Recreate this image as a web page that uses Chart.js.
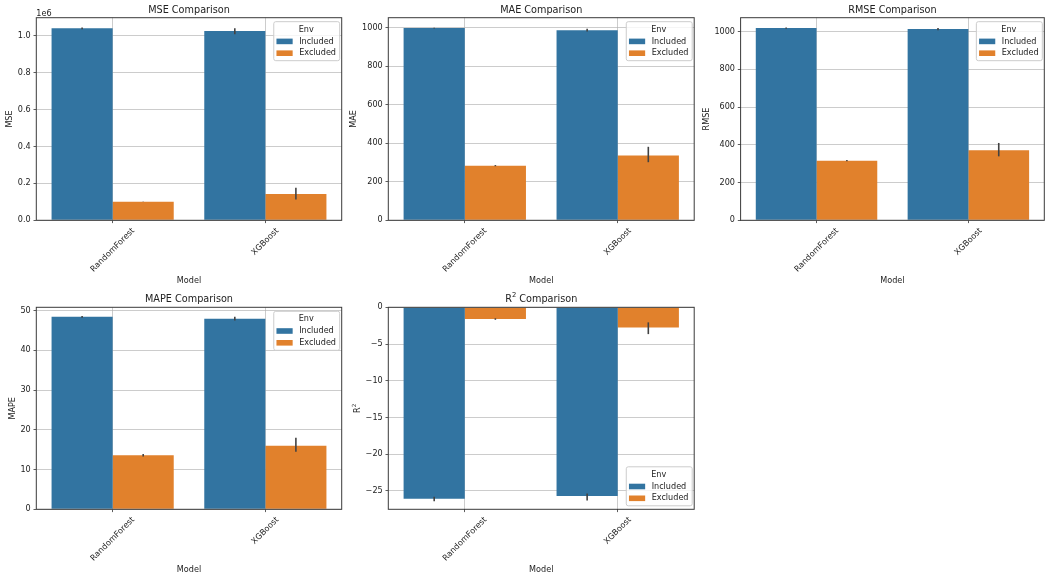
<!DOCTYPE html>
<html>
<head>
<meta charset="utf-8">
<script src="https://cdn.jsdelivr.net/npm/chart.js@4.4.1/dist/chart.umd.min.js"></script>
<style>
  html, body { margin: 0; padding: 0; background: #fff; }
  body { width: 1052px; height: 580px; position: relative; overflow: hidden; }
  canvas { position: absolute; }
</style>
</head>
<body>
<canvas id="mseChart"></canvas>
<canvas id="maeChart"></canvas>
<canvas id="rmseChart"></canvas>
<canvas id="mapeChart"></canvas>
<canvas id="r2Chart"></canvas>
<script>
// Categories and hue levels
const models = ['RandomForest', 'XGBoost'];
const envs = ['Included', 'Excluded'];

// MSE (raw units, axis shows 1e6)
const mseIncluded = [1040000, 1025000];
const mseExcluded = [100000, 142000];
const mseIncludedLo = [1035000, 1008000];
const mseIncludedHi = [1045000, 1041000];
const mseExcludedLo = [99000, 112000];
const mseExcludedHi = [101000, 177000];
const mseTicks = [0, 200000, 400000, 600000, 800000, 1000000];

// MAE
const maeIncluded = [999, 988];
const maeExcluded = [284, 337];
const maeIncludedLo = [997, 981];
const maeIncludedHi = [1001, 995];
const maeExcludedLo = [281, 302];
const maeExcludedHi = [287, 382];
const maeTicks = [0, 200, 400, 600, 800, 1000];

// RMSE
const rmseIncluded = [1019, 1014];
const rmseExcluded = [316, 372];
const rmseIncludedLo = [1016, 1008];
const rmseIncludedHi = [1022, 1020];
const rmseExcludedLo = [313, 339];
const rmseExcludedHi = [320, 410];
const rmseTicks = [0, 200, 400, 600, 800, 1000];

// MAPE
const mapeIncluded = [48.4, 47.9];
const mapeExcluded = [13.6, 16.0];
const mapeIncludedLo = [48.2, 47.5];
const mapeIncludedHi = [48.6, 48.4];
const mapeExcludedLo = [13.3, 14.5];
const mapeExcludedHi = [13.9, 18.0];
const mapeTicks = [0, 10, 20, 30, 40, 50];

// R^2
const r2Included = [-26.05, -25.7];
const r2Excluded = [-1.6, -2.75];
const r2IncludedLo = [-26.4, -26.3];
const r2IncludedHi = [-25.8, -25.35];
const r2ExcludedLo = [-1.7, -3.65];
const r2ExcludedHi = [-1.5, -2.05];
const r2Ticks = [-25, -20, -15, -10, -5, 0];

// y axis limits [min, max]
const mseRange = [0, 1097500];
const maeRange = [0, 1053];
const rmseRange = [0, 1074];
const mapeRange = [0, 50.8];
const r2Range = [-27.5, 0];

const FONT = '"DejaVu Sans", sans-serif';
const TEXT = '#222';
const colors = ['#3274a1', '#e1812c'];

Chart.defaults.font.family = FONT;
Chart.defaults.animation = false;

const minus = v => (v < 0 ? '\u2212' + Math.abs(v) : String(v));

// text with an optional superscript, e.g. R^2
function drawLabel(ctx, parts, size, cx, cy, rot) {
    ctx.save();
    ctx.translate(cx, cy);
    if (rot) ctx.rotate(rot);
    let total = 0;
    const items = parts.map(p => {
        const s = p.sup ? size * 0.7 : size;
        ctx.font = s + 'px ' + FONT;
        const w = ctx.measureText(p.text).width;
        total += w;
        return { text: p.text, s, w, sup: p.sup };
    });
    let x = -total / 2;
    ctx.textAlign = 'left';
    ctx.textBaseline = 'middle';
    ctx.fillStyle = TEXT;
    items.forEach(it => {
        ctx.font = it.s + 'px ' + FONT;
        ctx.fillText(it.text, x, it.sup ? -size * 0.45 : 0);
        x += it.w;
    });
    ctx.restore();
}

function drawLegend(chart, where) {
    const ctx = chart.ctx, a = chart.chartArea;
    ctx.save();
    ctx.font = '8.1px ' + FONT;
    const textW = Math.max(...envs.map(e => ctx.measureText(e).width));
    const w = 3.2 + 16.2 + 6.5 + textW + 3.2;
    const h = 39;
    const x0 = a.right - 2.5 - w;
    const y0 = where === 'lower' ? a.bottom - 4 - h : a.top + 3.5;
    ctx.beginPath();
    ctx.roundRect(x0 + 0.5, y0 + 0.5, w, h, 2);
    ctx.fillStyle = 'rgba(255,255,255,0.8)';
    ctx.fill();
    ctx.strokeStyle = '#cccccc';
    ctx.lineWidth = 1;
    ctx.stroke();
    ctx.fillStyle = TEXT;
    ctx.textAlign = 'center';
    ctx.textBaseline = 'middle';
    ctx.fillText('Env', x0 + w / 2, y0 + 8.3);
    envs.forEach((e, i) => {
        const cy = y0 + 20.2 + i * 11.8;
        ctx.fillStyle = chart.data.datasets[i].backgroundColor;
        ctx.fillRect(x0 + 3.2, cy - 2.8, 16.2, 5.6);
        ctx.fillStyle = TEXT;
        ctx.textAlign = 'left';
        ctx.fillText(e, x0 + 3.2 + 16.2 + 6.5, cy);
    });
    ctx.restore();
}

function makeDecor(p) {
    return {
        id: 'decor_' + p.id,
        afterDatasetsDraw(chart) {
            // error bars
            const ctx = chart.ctx, y = chart.scales.y;
            ctx.save();
            ctx.strokeStyle = '#424242';
            ctx.lineWidth = 1.6;
            p.errors.forEach((err, i) => {
                chart.getDatasetMeta(i).data.forEach((bar, j) => {
                    ctx.beginPath();
                    ctx.moveTo(bar.x, y.getPixelForValue(err[0][j]));
                    ctx.lineTo(bar.x, y.getPixelForValue(err[1][j]));
                    ctx.stroke();
                });
            });
            ctx.restore();
        },
        afterDraw(chart) {
            const ctx = chart.ctx, a = chart.chartArea;
            const xs = chart.scales.x, ys = chart.scales.y;
            ctx.save();
            // frame
            ctx.strokeStyle = '#3a3a3a';
            ctx.lineWidth = 1;
            ctx.strokeRect(a.left, a.top, a.right - a.left, a.bottom - a.top);

            // title
            drawLabel(ctx, p.title, 9.7, (a.left + a.right) / 2, a.top - 7.5, 0);

            // x tick labels, rotated 45 and centred under the tick
            ctx.font = '8.1px ' + FONT;
            ctx.fillStyle = TEXT;
            models.forEach((m, i) => {
                const x = xs.getPixelForTick(i);
                const w = ctx.measureText(m).width;
                const cy = a.bottom + 5.8 + (w + 9.4) * 0.7071 / 2;
                ctx.save();
                ctx.translate(x, cy);
                ctx.rotate(-Math.PI / 4);
                ctx.textAlign = 'center';
                ctx.textBaseline = 'middle';
                ctx.fillText(m, 0, 0);
                ctx.restore();
            });

            // axis titles
            drawLabel(ctx, [{ text: 'Model' }], 8.1, (a.left + a.right) / 2, a.bottom + 60.7, 0);
            ctx.font = '8.1px ' + FONT;
            const maxW = Math.max(...ys.ticks.map(t => ctx.measureText(t.label).width));
            drawLabel(ctx, p.ylabel, 8.1, a.left - 5.6 - maxW - 3.2 - 4.7, (a.top + a.bottom) / 2, -Math.PI / 2);

            // offset text
            if (p.offsetText) {
                ctx.font = '8.1px ' + FONT;
                ctx.fillStyle = TEXT;
                ctx.textAlign = 'left';
                ctx.textBaseline = 'alphabetic';
                ctx.fillText(p.offsetText, a.left, a.top - 2);
            }
            ctx.restore();

            drawLegend(chart, p.legend);
        }
    };
}

// canvas box [left, top, width, height] and axes box [left, top, right, bottom] in page pixels
const panels = [
    { id: 'mseChart', title: [{ text: 'MSE Comparison' }], ylabel: [{ text: 'MSE' }],
      values: [mseIncluded, mseExcluded], errors: [[mseIncludedLo, mseIncludedHi], [mseExcludedLo, mseExcludedHi]],
      range: mseRange, ticks: mseTicks, fmt: v => (v / 1e6).toFixed(1), offsetText: '1e6', legend: 'upper',
      canvas: [0, 0, 348, 290], axes: [36.3, 17.7, 341.7, 220.3] },
    { id: 'maeChart', title: [{ text: 'MAE Comparison' }], ylabel: [{ text: 'MAE' }],
      values: [maeIncluded, maeExcluded], errors: [[maeIncludedLo, maeIncludedHi], [maeExcludedLo, maeExcludedHi]],
      range: maeRange, ticks: maeTicks, fmt: minus, legend: 'upper',
      canvas: [338, 0, 360, 290], axes: [388.3, 17.7, 694.2, 220.3] },
    { id: 'rmseChart', title: [{ text: 'RMSE Comparison' }], ylabel: [{ text: 'RMSE' }],
      values: [rmseIncluded, rmseExcluded], errors: [[rmseIncludedLo, rmseIncludedHi], [rmseExcludedLo, rmseExcludedHi]],
      range: rmseRange, ticks: rmseTicks, fmt: minus, legend: 'upper',
      canvas: [690, 0, 362, 290], axes: [740.6, 17.7, 1044.3, 220.3] },
    { id: 'mapeChart', title: [{ text: 'MAPE Comparison' }], ylabel: [{ text: 'MAPE' }],
      values: [mapeIncluded, mapeExcluded], errors: [[mapeIncludedLo, mapeIncludedHi], [mapeExcludedLo, mapeExcludedHi]],
      range: mapeRange, ticks: mapeTicks, fmt: minus, legend: 'upper',
      canvas: [0, 290, 348, 290], axes: [36.3, 307.3, 341.7, 509.3] },
    { id: 'r2Chart', title: [{ text: 'R' }, { text: '2', sup: true }, { text: ' Comparison' }],
      ylabel: [{ text: 'R' }, { text: '2', sup: true }],
      values: [r2Included, r2Excluded], errors: [[r2IncludedLo, r2IncludedHi], [r2ExcludedLo, r2ExcludedHi]],
      range: r2Range, ticks: r2Ticks, fmt: minus, legend: 'lower',
      canvas: [338, 290, 360, 290], axes: [388.3, 307.3, 694.2, 509.3] }
];

panels.forEach(p => {
    const [cl, ct, cw, ch] = p.canvas;
    const [al, at, ar, ab] = p.axes;
    const el = document.getElementById(p.id);
    el.width = cw;
    el.height = ch;
    el.style.left = cl + 'px';
    el.style.top = ct + 'px';
    const yWidth = al - cl;
    const xHeight = ct + ch - ab;

    new Chart(el.getContext('2d'), {
        type: 'bar',
        data: {
            labels: models,
            datasets: envs.map((e, i) => ({
                label: e,
                data: p.values[i],
                backgroundColor: colors[i],
                borderWidth: 0,
                categoryPercentage: 0.8,
                barPercentage: 1.0
            }))
        },
        options: {
            responsive: false,
            layout: { padding: { left: 0, top: at - ct, right: cl + cw - ar, bottom: 0 } },
            plugins: {
                legend: { display: false },
                title: { display: false },
                tooltip: { enabled: false }
            },
            scales: {
                x: {
                    z: 1,
                    offset: true,
                    grid: { offset: false, color: 'rgba(176,176,176,0.65)', lineWidth: 1, tickLength: 2.8, tickColor: '#333', tickWidth: 0.8 },
                    border: { display: false },
                    ticks: { display: false },
                    afterFit: s => { s.height = xHeight; }
                },
                y: {
                    z: 1,
                    min: p.range[0],
                    max: p.range[1],
                    grid: { color: 'rgba(176,176,176,0.65)', lineWidth: 1, tickLength: 2.8, tickColor: '#333', tickWidth: 0.8 },
                    border: { display: false },
                    afterBuildTicks: s => { s.ticks = p.ticks.map(v => ({ value: v })); },
                    ticks: {
                        padding: 2.8,
                        color: TEXT,
                        font: { size: 8.1, family: FONT },
                        callback: v => p.fmt(v)
                    },
                    afterFit: s => { s.width = yWidth; }
                }
            }
        },
        plugins: [makeDecor(p)]
    });
});
</script>
</body>
</html>
